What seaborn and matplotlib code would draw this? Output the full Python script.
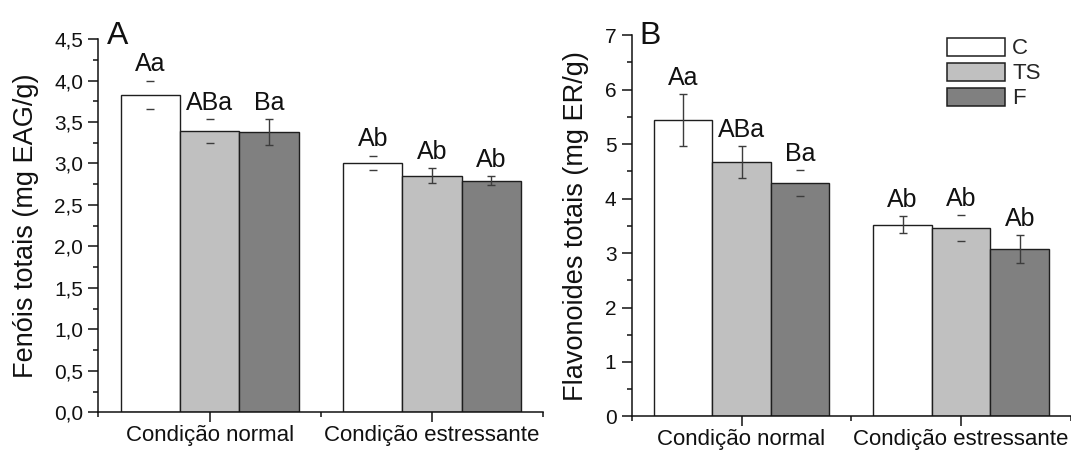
import numpy as np
import pandas as pd
import matplotlib
matplotlib.use("Agg")
import matplotlib.pyplot as plt
import seaborn as sns
from matplotlib.ticker import MultipleLocator, FixedLocator, FuncFormatter
from matplotlib.patches import Patch

# ---------------- data ----------------
conditions = ["Condição normal", "Condição estressante"]
treatments = ["C", "TS", "F"]

# Panel A – Fenóis totais (mg EAG/g)
fenois_normal = [3.83, 3.39, 3.38]
fenois_stress = [3.01, 2.85, 2.79]
fenois_err_normal = [0.17, 0.145, 0.155]
fenois_err_stress = [0.085, 0.09, 0.055]
fenois_letters_normal = ["Aa", "ABa", "Ba"]
fenois_letters_stress = ["Ab", "Ab", "Ab"]

# Panel B – Flavonoides totais (mg ER/g)
flav_normal = [5.44, 4.67, 4.29]
flav_stress = [3.52, 3.46, 3.07]
flav_err_normal = [0.47, 0.30, 0.235]
flav_err_stress = [0.16, 0.24, 0.255]
flav_letters_normal = ["Aa", "ABa", "Ba"]
flav_letters_stress = ["Ab", "Ab", "Ab"]

# ---------------- style ----------------
bar_colors = ["#ffffff", "#c0c0c0", "#808080"]
edge_color = "#1e1e1e"
err_color = "#3c3c3c"
# whether the vertical error line is visible (as in the original figure)
line_vis_A = {("Condição normal", "C"): False, ("Condição normal", "TS"): False,
              ("Condição normal", "F"): True, ("Condição estressante", "C"): False,
              ("Condição estressante", "TS"): True, ("Condição estressante", "F"): True}
line_vis_B = {("Condição normal", "C"): True, ("Condição normal", "TS"): True,
              ("Condição normal", "F"): False, ("Condição estressante", "C"): True,
              ("Condição estressante", "TS"): False, ("Condição estressante", "F"): True}

sns.set_style("ticks")
plt.rcParams["font.family"] = ["Liberation Sans", "DejaVu Sans"]


def make_df(normal, stress, en, es, ln, ls):
    rows = []
    for t, v, e, l in zip(treatments, normal, en, ln):
        rows.append({"Condição": conditions[0], "Tratamento": t, "valor": v, "erro": e, "letra": l})
    for t, v, e, l in zip(treatments, stress, es, ls):
        rows.append({"Condição": conditions[1], "Tratamento": t, "valor": v, "erro": e, "letra": l})
    return pd.DataFrame(rows)


df_A = make_df(fenois_normal, fenois_stress, fenois_err_normal, fenois_err_stress,
               fenois_letters_normal, fenois_letters_stress)
df_B = make_df(flav_normal, flav_stress, flav_err_normal, flav_err_stress,
               flav_letters_normal, flav_letters_stress)

fig = plt.figure(figsize=(10.71, 4.53), dpi=100)
ax_A = fig.add_axes([0.0918, 0.0898, 0.4155, 0.824])
ax_B = fig.add_axes([0.5898, 0.0806, 0.4102, 0.842])


def draw_panel(ax, df, line_vis, ylim, major, minor, fmt, ylabel, labelpad):
    sns.barplot(data=df, x="Condição", y="valor", hue="Tratamento",
                order=conditions, hue_order=treatments, palette=bar_colors,
                saturation=1, edgecolor=edge_color, linewidth=1.0,
                errorbar=None, width=0.8, legend=False, ax=ax)
    for t, cont in zip(treatments, ax.containers):
        for cond, bar in zip(conditions, cont):
            row = df[(df["Condição"] == cond) & (df["Tratamento"] == t)].iloc[0]
            xc = bar.get_x() + bar.get_width() / 2
            top = bar.get_height()
            vis = line_vis[(cond, t)]
            ax.errorbar(xc, top, yerr=row["erro"], fmt="none", ecolor=err_color,
                        elinewidth=1.0 if vis else 0.0, capsize=3.0, capthick=1.0,
                        zorder=5)
            ax.annotate(row["letra"], (xc, top + row["erro"]), xytext=(0, 3.0),
                        textcoords="offset points", ha="center", va="bottom",
                        fontsize=18, color="#111111")
    ax.set_xlim(-0.5, 1.5)
    ax.set_ylim(*ylim)
    ax.yaxis.set_major_locator(MultipleLocator(major))
    ax.yaxis.set_minor_locator(MultipleLocator(minor))
    ax.yaxis.set_major_formatter(FuncFormatter(fmt))
    ax.xaxis.set_minor_locator(FixedLocator([-0.5, 0.5, 1.5]))
    ax.set_xlabel("")
    ax.set_ylabel(ylabel, fontsize=19.5, labelpad=labelpad, color="#111111")
    for s in ["top", "right"]:
        ax.spines[s].set_visible(False)
    for s in ["left", "bottom"]:
        ax.spines[s].set_linewidth(1.1)
        ax.spines[s].set_color("#111111")
    ax.tick_params(axis="both", which="major", direction="out", length=7,
                   width=1.1, color="#111111")
    ax.tick_params(axis="both", which="minor", direction="out", length=3.6,
                   width=1.1, color="#111111")
    ax.tick_params(axis="y", which="major", labelsize=15, pad=4, labelcolor="#111111")
    ax.tick_params(axis="x", which="major", labelsize=16, pad=2.0, labelcolor="#111111")


draw_panel(ax_A, df_A, line_vis_A, (0, 4.5), 0.5, 0.25,
           lambda v, p: f"{v:.1f}".replace(".", ","),
           "Fenóis totais (mg EAG/g)", 11)
draw_panel(ax_B, df_B, line_vis_B, (0, 7), 1, 0.5,
           lambda v, p: f"{v:.0f}",
           "Flavonoides totais (mg ER/g)", 11)

fig.text(0.0999, 0.9029, "A", fontsize=23, va="baseline", ha="left", color="#111111")
fig.text(0.597, 0.9029, "B", fontsize=23, va="baseline", ha="left", color="#111111")

handles = [Patch(facecolor=c, edgecolor=edge_color, linewidth=1.1, label=t)
           for c, t in zip(bar_colors, treatments)]
ax_B.legend(handles=handles, loc="upper left", bbox_to_anchor=(0.884, 0.9167),
            bbox_transform=fig.transFigure, frameon=False, fontsize=16,
            handlelength=2.6, handleheight=0.86, handletextpad=0.34,
            labelspacing=0.15, borderpad=0, borderaxespad=0)

fig.savefig("out.png", dpi=100, facecolor="white")
